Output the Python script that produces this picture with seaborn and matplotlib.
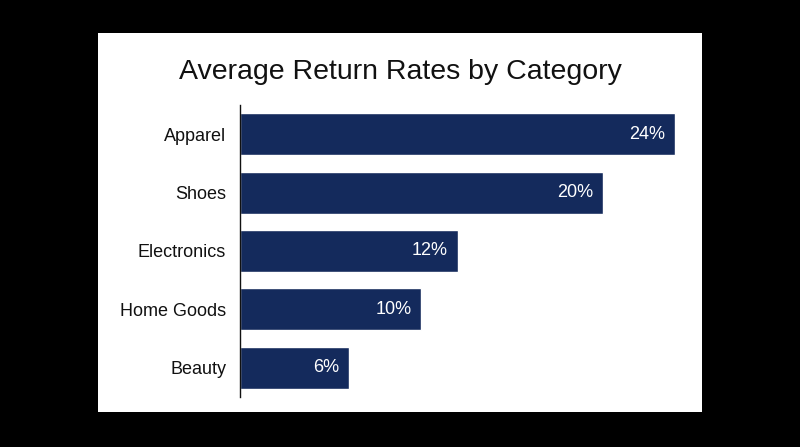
import pandas as pd
import matplotlib.pyplot as plt
import seaborn as sns
from matplotlib.patches import Rectangle

categories = ['Apparel', 'Shoes', 'Electronics', 'Home Goods', 'Beauty']
return_rates = [24, 20, 12, 10, 6]

df = pd.DataFrame({'Category': categories, 'Rate': return_rates})

sns.set_theme(style='white')
plt.rcParams['font.family'] = ['Liberation Sans', 'DejaVu Sans']

fig = plt.figure(figsize=(8, 4.47), dpi=100, facecolor='black')
# white card behind the chart
fig.patches.append(Rectangle((0.1225, 0.078), 0.755, 0.848, transform=fig.transFigure,
                             facecolor='white', edgecolor='none', zorder=-1))

ax = fig.add_axes([0.3, 0.112, 0.5625, 0.653])
ax.set_facecolor('none')
sns.barplot(data=df, x='Rate', y='Category', color='#142a5c', width=0.72,
            saturation=1, ax=ax)

for i, v in enumerate(return_rates):
    ax.text(v - 0.55, i, f'{v}%', color='white', ha='right', va='center', fontsize=13)

ax.set_xlim(0, 24.8)
ax.set_ylim(4.5, -0.5)
ax.set_xlabel('')
ax.set_ylabel('')
ax.set_xticks([])
ax.tick_params(axis='y', length=0, pad=10, labelsize=13, labelcolor='#111111')
for s in ['top', 'right', 'bottom']:
    ax.spines[s].set_visible(False)
ax.spines['left'].set_color('#111111')
ax.spines['left'].set_linewidth(1)

fig.text(0.5, 0.84, 'Average Return Rates by Category', ha='center', va='center',
         fontsize=20.5, color='#111111')

fig.savefig('out.png', dpi=100, facecolor='black')
